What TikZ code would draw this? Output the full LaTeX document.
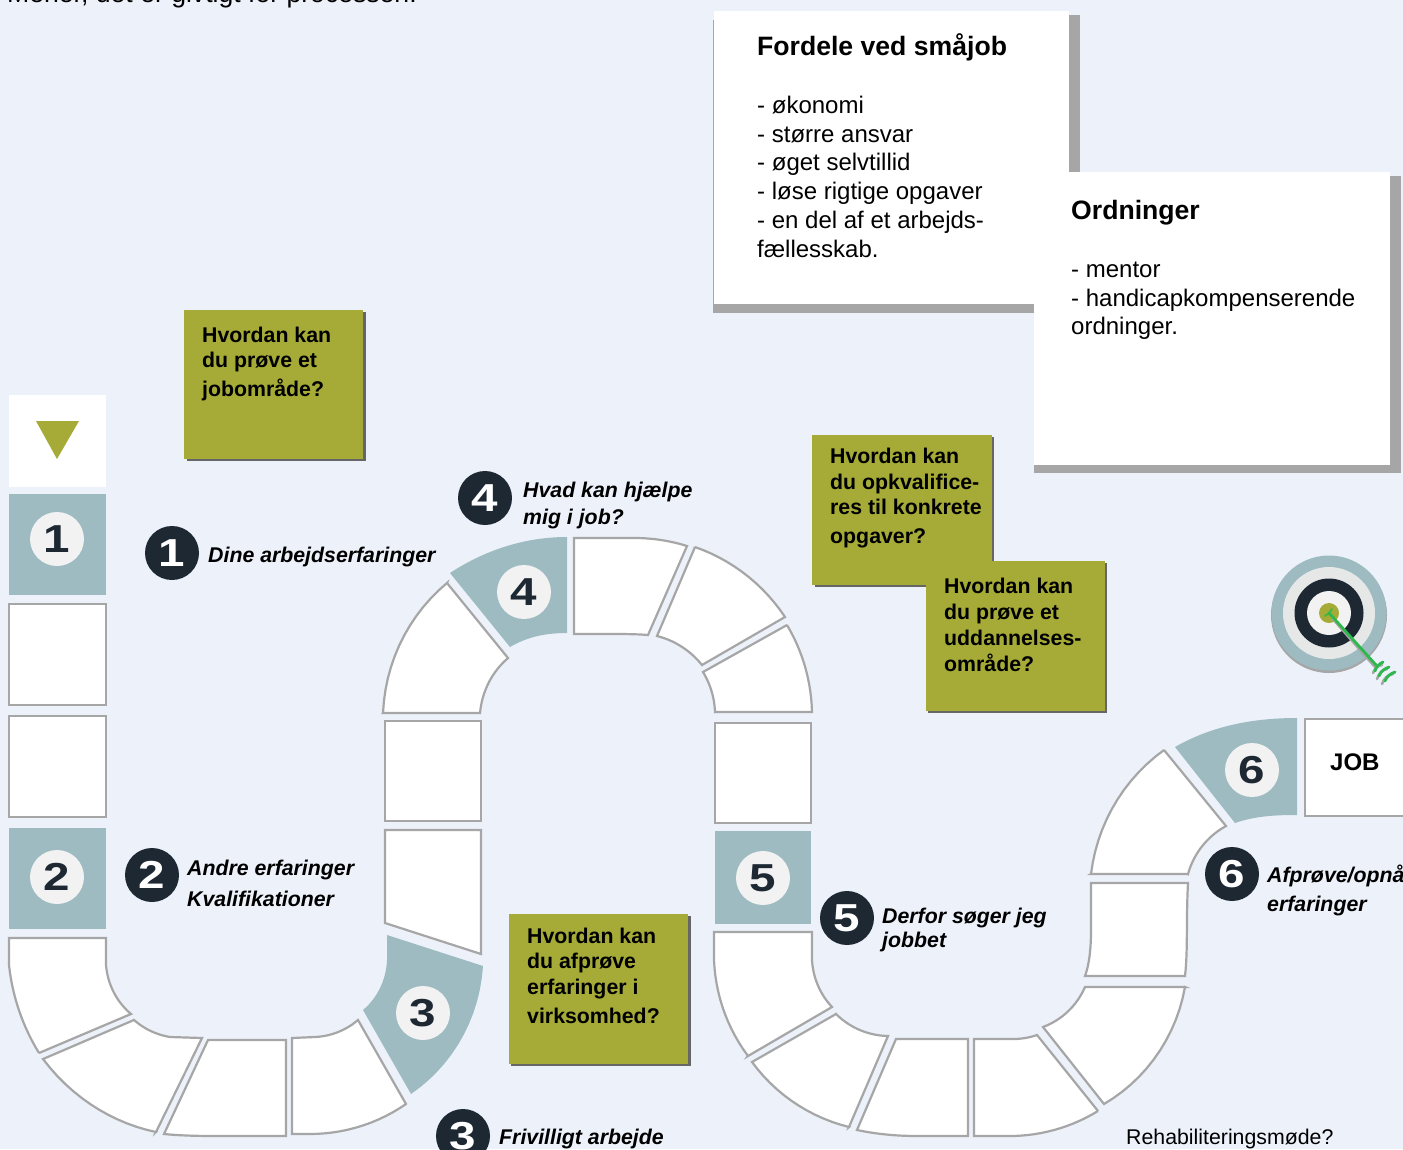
\documentclass[tikz,border=0pt]{standalone}
\usepackage{fontspec}
\setmainfont{Liberation Sans}
\newfontfamily\numfont[FakeStretch=1.22]{Liberation Sans}
\definecolor{pagebg}{HTML}{ECF1FA}
\definecolor{teal}{HTML}{9DBBC1}
\definecolor{olive}{HTML}{A5AB36}
\definecolor{ink}{HTML}{1D2833}
\definecolor{edge}{HTML}{A6A6A6}
\definecolor{pale}{HTML}{F2F2F2}
\definecolor{ring}{HTML}{E6E8E8}
\definecolor{arrowgreen}{HTML}{2DB84C}
\newcommand\parc[6]{-- plot[domain=0:1,samples=14,variable=\t]
 ({#1+(veclen(#3-#1,#4-#2)+(veclen(#5-#1,#6-#2)-veclen(#3-#1,#4-#2))*\t)*cos(atan2(#4-#2,#3-#1)+(mod(atan2(#6-#2,#5-#1)-atan2(#4-#2,#3-#1)+540,360)-180)*\t)},
  {#2+(veclen(#3-#1,#4-#2)+(veclen(#5-#1,#6-#2)-veclen(#3-#1,#4-#2))*\t)*sin(atan2(#4-#2,#3-#1)+(mod(atan2(#6-#2,#5-#1)-atan2(#4-#2,#3-#1)+540,360)-180)*\t)})}
\newcommand\bl{\rule{0pt}{30pt}}
\tikzset{
 seg/.style={draw=edge,fill=white,line width=2.2pt,line join=miter},
 tealseg/.style={fill=teal},
 txt/.style={inner sep=0pt,anchor=north west,align=left,text=black},
 olivetxt/.style={txt,font=\fontsize{21.3}{26}\selectfont\bfseries},
 labeltxt/.style={txt,font=\fontsize{21.3}{27}\selectfont\bfseries\itshape},
 cardtitle/.style={txt,font=\fontsize{26.6}{30}\selectfont\bfseries},
 cardtxt/.style={txt,font=\fontsize{24}{28.8}\selectfont},
 lightbadge/.style={circle,fill=pale,minimum size=54pt,inner sep=0pt,text=ink,font=\numfont\fontsize{39}{39}\selectfont\bfseries},
 darkbadge/.style={circle,fill=ink,minimum size=54pt,inner sep=0pt,text=white,font=\numfont\fontsize{39}{39}\selectfont\bfseries},
 olivebox/.style={fill=olive},
 oliveshade/.style={fill=black!60},
 cardshade/.style={fill=edge},
}
\begin{document}
\begin{tikzpicture}[x=1pt,y=-1pt]
\fill[pagebg] (0,0) rectangle (1403,1149);
\useasboundingbox (0,0) rectangle (1403,1149);

\node[txt,font=\fontsize{26.6}{30}\selectfont] (intro) at (7,-28) {\bl Mener, det er givtigt for processen.};

% cards
\fill[cardshade] (725,15) rectangle (1080,313);
\fill[cardshade] (713,20) rectangle (1060,313);
\fill[white] (714,11) rectangle (1069,304);
\node[cardtitle] (t1) at (757,25) {\bl Fordele ved småjob};
\node[cardtxt] (b1) at (757,83) {\bl - økonomi\\- større ansvar\\- øget selvtillid\\- løse rigtige opgaver\\- en del af et arbejds-\\fællesskab.};
\fill[cardshade] (1034,176) rectangle (1401,473);
\fill[white] (1034,172) rectangle (1390,465);
\node[cardtitle] (t2) at (1071,189) {\bl Ordninger};
\node[cardtxt] (b2) at (1071,247) {\bl - mentor\\- handicapkompenserende\\ordninger.};

% olive boxes
\fill[oliveshade] (187,312) rectangle (366,461);
\fill[olivebox] (184,310) rectangle (363,459);
\node[olivetxt] (o1) at (202,312) {\bl Hvordan kan\\[-1pt]du prøve et\\[3pt]jobområde?};
\fill[oliveshade] (815,437) rectangle (994,587);
\fill[olivebox] (812,435) rectangle (992,585);
\node[olivetxt] (o2) at (830,433) {\bl Hvordan kan\\du opkvalifice-\\[-1pt]res til konkrete\\[3pt]opgaver?};
\fill[oliveshade] (928,563) rectangle (1107,713);
\fill[olivebox] (926,561) rectangle (1105,711);
\node[olivetxt] (o3) at (944,563) {\bl Hvordan kan\\du prøve et\\uddannelses-\\område?};
\fill[oliveshade] (511,916) rectangle (691,1066);
\fill[olivebox] (509,914) rectangle (688,1064);
\node[olivetxt] (o4) at (527,913) {\bl Hvordan kan\\[-1pt]du afprøve\\erfaringer i\\[3pt]virksomhed?};

% start column
\fill[white] (9,395) rectangle (106,487);
\fill[olive] (36,421) -- (79,421) -- (57,459) -- cycle;
\fill[teal] (9,494) rectangle (106,595);
\draw[seg] (9,604) rectangle (106,705);
\draw[seg] (9,716) rectangle (106,817);
\fill[teal] (9,828) rectangle (106,929);

% first U
\draw[seg] (9,938) -- (106,938) -- (106,965) \parc{180}{965}{106}{965}{131}{1014} -- (39,1053) \parc{226}{965}{39}{1053}{9}{965} -- cycle;
\draw[seg] (134,1020) \parc{180}{965}{134}{1020}{170}{1037} -- (202,1038) -- (156,1132) \parc{226}{965}{156}{1132}{43}{1059} -- cycle;
\draw[seg] (208,1040) -- (286,1040) -- (286,1136) -- (225,1136) .. controls (205,1136) and (184,1136) .. (164,1134) -- cycle;
\draw[seg] (292,1038) -- (315,1037) \parc{315}{965}{315}{1037}{358}{1020} -- (406,1104) \parc{311}{965}{406}{1104}{310}{1134} -- (292,1134) -- cycle;
\fill[tealseg] (387,935) -- (483,966) \parc{311}{965}{483}{966}{411}{1094} -- (363,1010) \parc{315}{965}{363}{1010}{387}{960} -- cycle;

% second column
\draw[seg] (385,830) -- (481,830) -- (481,954) -- (385,923) -- cycle;
\draw[seg] (385,721) rectangle (481,821);
\draw[seg] (383,713) -- (480,713) \parc{565}{713}{480}{713}{508}{658} -- (447,583) \parc{565}{713}{447}{583}{383}{713} -- cycle;
\fill[tealseg] (450,573) .. controls (485,550) and (525,537) .. (567,537) -- (567,633) .. controls (545,633) and (527,637) .. (510,647) -- cycle;
\draw[seg] (574,538) -- (633,538) \parc{633}{713}{633}{538}{687}{546} -- (648,635) .. controls (636,634) and (622,634) .. (610,634) -- (574,634) -- cycle;
\draw[seg] (695,547) \parc{633}{713}{695}{547}{785}{617} -- (702,665) \parc{630}{713}{702}{665}{657}{636} -- cycle;
\draw[seg] (787,625) \parc{633}{713}{787}{625}{812}{712} -- (715,712) \parc{632}{713}{715}{712}{703}{672} -- cycle;
\draw[seg] (715,723) rectangle (811,823);
\fill[teal] (715,831) rectangle (811,924);

% second U
\draw[seg] (714,932) -- (812,932) -- (812,960) \parc{888}{960}{812}{960}{832}{1007} -- (748,1056) \parc{888}{960}{748}{1056}{714}{960} -- cycle;
\draw[seg] (836,1014) \parc{888}{960}{836}{1014}{888}{1036} -- (849,1127) \parc{888}{960}{849}{1127}{752}{1062} -- cycle;
\draw[seg] (896,1039) -- (968,1039) -- (968,1136) -- (917,1136) .. controls (896,1136) and (876,1134) .. (857,1130) -- cycle;
\draw[seg] (974,1039) -- (1013,1039) \parc{1013}{965}{1013}{1039}{1037}{1035} -- (1098,1111) \parc{1013}{965}{1098}{1111}{1013}{1136} -- (974,1136) -- cycle;
\draw[seg] (1043,1027) \parc{1015}{960}{1043}{1027}{1085}{987} -- (1185,987) \parc{1013}{965}{1185}{987}{1104}{1104} -- cycle;
\draw[seg] (1091,883) -- (1188,883) .. controls (1186,920) and (1188,950) .. (1185,976) -- (1085,976) .. controls (1089,965) and (1091,950) .. (1091,930) -- cycle;
\draw[seg] (1091,874) -- (1188,874) \parc{1265}{893}{1188}{874}{1226}{826} -- (1164,750) \parc{1270}{893}{1164}{750}{1091}{874} -- cycle;
\fill[tealseg] (1175,747) .. controls (1210,727) and (1250,718) .. (1297,718) -- (1297,815) .. controls (1275,815) and (1255,816) .. (1235,823) -- cycle;
\draw[seg] (1305,719) rectangle (1420,816);
\node[font=\fontsize{24}{28}\selectfont\bfseries,inner sep=0pt,anchor=base west] (job) at (1330,770) {JOB};

% light badges
\node[lightbadge] (l1) at (57,539) {1};
\node[lightbadge] (l2) at (57,877) {2};
\node[lightbadge] (l3) at (423,1013) {3};
\node[lightbadge] (l4) at (524,592) {4};
\node[lightbadge] (l5) at (763,878) {5};
\node[lightbadge] (l6) at (1252,770) {6};
% dark badges
\node[darkbadge] (d1) at (172,553) {1};
\node[darkbadge] (d2) at (152,875) {2};
\node[darkbadge] (d3) at (463,1136) {3};
\node[darkbadge] (d4) at (485,498) {4};
\node[darkbadge] (d5) at (847,918) {5};
\node[darkbadge] (d6) at (1232,874) {6};

% labels
\node[labeltxt] (la1) at (208,532) {\bl Dine arbejdserfaringer};
\node[labeltxt] (la2) at (187,845) {\bl Andre erfaringer\\[4pt]Kvalifikationer};
\node[labeltxt] (la3) at (499,1114) {\bl Frivilligt arbejde};
\node[labeltxt] (la4) at (523,467) {\bl Hvad kan hjælpe\\mig i job?};
\node[labeltxt] (la5) at (882,893) {\bl Derfor søger jeg\\[-3pt]jobbet};
\node[labeltxt] (la6) at (1267,852) {\bl Afprøve/opnå\\[2pt]erfaringer};
\node[txt,font=\fontsize{21.3}{26}\selectfont] (rehab) at (1126,1114) {\bl Rehabiliteringsmøde?};

% target
\fill[edge] (1329,615) circle (58);
\fill[teal] (1329,613) circle (57.5);
\fill[ring] (1329,613) circle (46);
\fill[ink] (1329,613) circle (34.5);
\fill[pale] (1329,613) circle (22);
\fill[olive] (1329,613) circle (10);
\begin{scope}[line cap=round,line width=2.6pt,draw=edge]
\draw[line width=2.5pt] (1332,618) -- (1375,667);
\draw (1373,673) .. controls (1375,668) and (1377,666) .. (1382,665);
\draw (1377,679) .. controls (1379,673) and (1382,670) .. (1387,669);
\draw (1382,684) .. controls (1384,678) and (1388,675) .. (1393,674);
\end{scope}
\begin{scope}[line cap=round,draw=arrowgreen]
\draw[line width=2.8pt] (1329,613) -- (1376,665);
\draw[line width=1.6pt] (1325,616) -- (1329,613) -- (1332,609);
\draw[line width=2.8pt] (1375,671) .. controls (1376,667) and (1379,664) .. (1383,662);
\draw[line width=2.8pt] (1379,676) .. controls (1381,671) and (1384,669) .. (1389,667);
\draw[line width=2.8pt] (1385,681) .. controls (1387,676) and (1390,674) .. (1395,672);
\end{scope}
\end{tikzpicture}
\end{document}
